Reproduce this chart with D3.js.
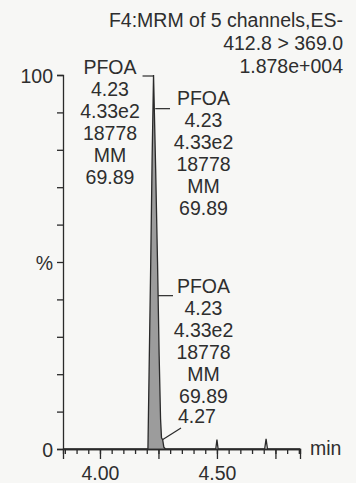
<!DOCTYPE html>
<html>
<head>
<meta charset="utf-8">
<script src="https://cdn.jsdelivr.net/npm/d3@7"></script>
<style>
  body { margin: 0; background: #f7f7f5; }
  text { font-family: "Liberation Sans", Arial, sans-serif; fill: #2e2e2e; }
</style>
</head>
<body>
<div id="canvas"></div>
<script>
const canvas = d3.select("#canvas");

// trace (retention time in min, relative intensity in %)
const times = [3.842, 4.195, 4.205, 4.211, 4.217, 4.223, 4.229, 4.238, 4.246, 4.253, 4.259, 4.263, 4.268, 4.273, 4.28,
  4.495, 4.5, 4.505, 4.704, 4.71, 4.716, 4.855];
const intensity = [0, 0, 0, 25, 50, 78, 100, 75, 50, 25, 8, 3, 2.5, 0.5, 0,
  0, 2.5, 0, 0, 2.7, 0, 0];

const peakStart = 4.195;
const peakEnd = 4.28;

const yTicks = [0, 10, 20, 30, 40, 50, 60, 70, 80, 90, 100];
const yLabels = { 0: "0", 50: "%", 100: "100" };
const xMajor = [4.0, 4.25, 4.5, 4.75];
const xLabels = { "4": "4.00", "4.5": "4.50" };

const header = ["F4:MRM of 5 channels,ES-", "412.8 > 369.0", "1.878e+004"];
const peakInfo = ["PFOA", "4.23", "4.33e2", "18778", "MM", "69.89"];
const secondPeak = "4.27";

const fs = "19.5px";

const createChart = () => {
  const width = 356;
  const height = 483;

  const svg = canvas.append("svg").attr("width", width).attr("height", height);

  const x = d3.scaleLinear().domain([3.842, 4.855]).range([63, 300]);
  const y = d3.scaleLinear().domain([0, 100]).range([449, 75]);

  const pts = times.map((t, i) => ({ t: t, v: intensity[i] }));

  // peak fill
  const area = d3.area().x((d) => x(d.t)).y0(y(0)).y1((d) => y(d.v));
  svg.append("path")
    .datum(pts.filter((d) => d.t >= peakStart && d.t <= peakEnd))
    .attr("d", area)
    .attr("fill", "#9c9c9c");

  const line = d3.line().x((d) => x(d.t)).y((d) => y(d.v));
  svg.append("path")
    .datum(pts)
    .attr("d", line)
    .attr("fill", "none")
    .attr("stroke", "#2a2a2a")
    .attr("stroke-width", 1.3);

  // y axis
  const yAxis = svg.append("g")
    .attr("transform", `translate(${x.range()[0]},0)`)
    .call(d3.axisLeft(y).tickValues(yTicks).tickSize(6).tickPadding(4)
      .tickFormat((d) => yLabels[d] || ""));

  // x axis, minor then major
  const minor = d3.range(3.85, 4.86, 0.05);
  svg.append("g")
    .attr("transform", `translate(0,${y(0)})`)
    .call(d3.axisBottom(x).tickValues(minor).tickSize(5).tickFormat(""));
  svg.append("g")
    .attr("transform", `translate(0,${y(0)})`)
    .call(d3.axisBottom(x).tickValues(xMajor).tickSize(10).tickPadding(7)
      .tickFormat((d) => xLabels[String(d)] || ""));

  svg.selectAll(".domain, .tick line")
    .attr("stroke", "#2a2a2a")
    .attr("stroke-width", 1.3);
  svg.selectAll(".tick text")
    .style("font-size", fs)
    .style("font-family", '"Liberation Sans", Arial, sans-serif')
    .attr("fill", "#2e2e2e");
  yAxis.selectAll(".tick text").attr("dy", "0.36em");

  svg.append("text")
    .attr("x", 310).attr("y", 455)
    .style("font-size", fs)
    .text("min");

  // header
  svg.append("g").selectAll("text")
    .data(header)
    .join("text")
    .attr("x", 343)
    .attr("y", (d, i) => 27 + i * 23)
    .attr("text-anchor", "end")
    .style("font-size", fs)
    .text((d) => d);

  // peak annotations
  const drawInfo = (cx, top) => {
    svg.append("g").selectAll("text")
      .data(peakInfo)
      .join("text")
      .attr("x", cx)
      .attr("y", (d, i) => top + i * 22)
      .attr("text-anchor", "middle")
      .style("font-size", fs)
      .text((d) => d);
  };
  drawInfo(110, 74);
  drawInfo(203.5, 105);
  drawInfo(203.5, 293);

  const leaders = [
    [[x(4.229) - 11, y(100) + 1], [x(4.229), y(100) + 1]],
    [[x(4.232) + 1, y(91)], [170, y(91)]],
    [[x(4.248), y(41)], [173, y(41)]],
    [[x(4.267), y(2.5)], [181, 428]],
  ];
  svg.append("g").selectAll("path")
    .data(leaders)
    .join("path")
    .attr("d", (d) => d3.line()(d))
    .attr("stroke", "#2a2a2a")
    .attr("stroke-width", 1.2)
    .attr("fill", "none");

  svg.append("text")
    .attr("x", 197).attr("y", 423)
    .attr("text-anchor", "middle")
    .style("font-size", fs)
    .text(secondPeak);
};

createChart();
</script>
</body>
</html>
